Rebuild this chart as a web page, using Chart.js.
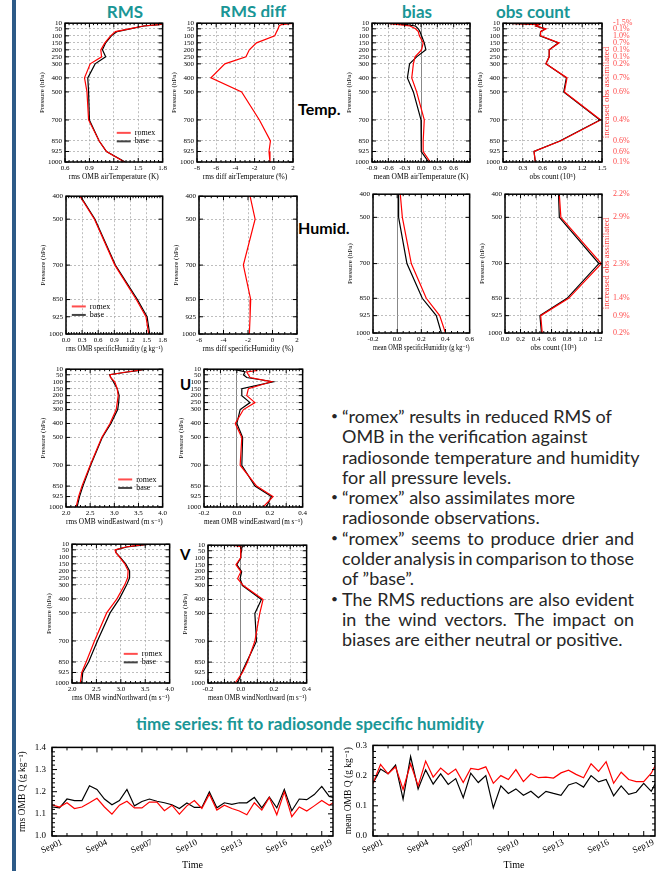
<!DOCTYPE html>
<html>
<head>
<meta charset="utf-8">
<script src="https://cdn.jsdelivr.net/npm/chart.js@4.4.1/dist/chart.umd.min.js"></script>
<style>
  html, body { margin: 0; padding: 0; background: #fff; }
  #page { position: relative; width: 656px; height: 871px; overflow: hidden; background: #fff; }
  #bar { position: absolute; left: 12px; top: 0; width: 4px; height: 871px; background: #2d5a87; }
  canvas { position: absolute; }
  .hd { position: absolute; transform: translateX(-50%); font-family: Lato, sans-serif; font-weight: bold;
        color: #1a9696; font-size: 17px; line-height: 1; white-space: nowrap; }
  .var { position: absolute; font-family: Lato, sans-serif; font-weight: bold; color: #000; font-size: 16px; line-height: 1; }
  #cover { position: absolute; left: 212px; top: 17px; width: 84px; height: 5px; background: #fff; }
  #notes { position: absolute; left: 342px; top: 406px; width: 292px; font-family: Lato, sans-serif;
           font-size: 18px; color: #262626; }
  #notes div { height: 20.3px; line-height: 20.3px; white-space: nowrap; position: relative; }
  #notes .b::before { content: '\2022'; position: absolute; left: -11px; font-size: 12px; }
</style>
</head>
<body>
<div id="page">
  <div id="bar"></div>
  <div class="hd" style="left:125px;top:3px">RMS</div>
  <div class="hd" style="left:253px;top:3px">RMS diff</div>
  <div id="cover"></div>
  <div class="hd" style="left:417px;top:3px">bias</div>
  <div class="hd" style="left:533px;top:3px">obs count</div>
  <div class="var" style="left:298px;top:101px">Temp.</div>
  <div class="var" style="left:298px;top:220px">Humid.</div>
  <div class="var" style="left:180px;top:377px;font-size:15px">U</div>
  <div class="var" style="left:180px;top:547px;font-size:15px">V</div>
  <div class="hd" style="left:310px;top:715px;font-size:17px">time series: fit to radiosonde specific humidity</div>

  <canvas id="t1"></canvas><canvas id="t2"></canvas><canvas id="t3"></canvas><canvas id="t4"></canvas>
  <canvas id="h1"></canvas><canvas id="h2"></canvas><canvas id="h3"></canvas><canvas id="h4"></canvas>
  <canvas id="u1"></canvas><canvas id="u2"></canvas>
  <canvas id="v1"></canvas><canvas id="v2"></canvas>
  <canvas id="s1"></canvas><canvas id="s2"></canvas>

  <div id="notes">
    <div class="b"><span>“romex” results in reduced RMS of</span></div>
    <div><span>OMB in the verification against</span></div>
    <div><span>radiosonde temperature and humidity</span></div>
    <div><span>for all pressure levels.</span></div>
    <div class="b"><span>“romex” also assimilates more</span></div>
    <div><span>radiosonde observations.</span></div>
    <div class="b j"><span>“romex” seems to produce drier and</span></div>
    <div class="j"><span>colder analysis in comparison to those</span></div>
    <div><span>of ”base”.</span></div>
    <div class="b j"><span>The RMS reductions are also evident</span></div>
    <div class="j"><span>in the wind vectors. The impact on</span></div>
    <div><span>biases are either neutral or positive.</span></div>
  </div>
</div>

<script>
// pressure levels (hPa)
const levels = [10, 20, 30, 50, 70, 100, 150, 200, 250, 300, 400, 500, 700, 850, 925, 1000];
const levelTicks = [10, 50, 100, 150, 200, 250, 300, 400, 500, 700, 850, 925, 1000];
const humLevels = [400, 500, 700, 850, 925, 1000];

// temperature
const tRmsRomex = [1.84, 1.75, 1.56, 1.39, 1.22, 1.16, 1.09, 1.04, 1.05, 0.91, 0.84, 0.87, 0.89, 1.02, 1.11, 1.33];
const tRmsBase  = [1.85, 1.76, 1.57, 1.40, 1.24, 1.17, 1.10, 1.06, 1.10, 0.97, 0.88, 0.89, 0.90, 1.02, 1.11, 1.34];
const tRmsDiff  = [2.3, 0.8, 0.55, 0.45, 0.3, 0.1, -1.8, -2.55, -2.9, -5.1, -6.55, -3.35, -1.5, -0.35, -0.5, -0.4];
const tBiasRomex = [-0.66, -0.4, -0.2, -0.1, -0.05, -0.03, 0.04, 0.01, -0.11, -0.14, -0.17, -0.08, 0.06, 0.04, 0.04, 0.17];
const tBiasBase  = [-0.62, -0.28, -0.1, -0.05, -0.02, 0.01, 0.06, 0.09, -0.08, -0.21, -0.25, -0.14, 0.0, 0.0, 0.01, 0.14];
const tCountRomex = [0.03, 0.55, 0.5, 0.65, 0.57, 0.57, 0.85, 0.7, 0.7, 0.65, 0.97, 0.93, 1.48, 0.87, 0.47, 0.49];
const tCountBase  = [0.03, 0.54, 0.5, 0.64, 0.57, 0.56, 0.84, 0.7, 0.7, 0.65, 0.96, 0.92, 1.47, 0.86, 0.47, 0.49];
const tCountPct = ['-1.5%', '0.1%', '1.0%', '0.7%', '0.1%', '0.1%', '0.2%', '0.7%', '0.6%', '0.4%', '0.6%', '0.6%', '0.1%'];

// specific humidity
const hRmsRomex = [0.26, 0.53, 0.91, 1.31, 1.49, 1.54];
const hRmsBase  = [0.27, 0.54, 0.92, 1.33, 1.51, 1.56];
const hRmsDiff  = [-1.83, -1.42, -2.38, -1.78, -1.83, -1.89];
const hBiasRomex = [0.026, 0.043, 0.117, 0.241, 0.352, 0.40];
const hBiasBase  = [0.012, 0.012, 0.081, 0.208, 0.324, 0.366];
const hCountRomex = [0.70, 0.72, 1.24, 0.82, 0.46, 0.48];
const hCountBase  = [0.69, 0.70, 1.21, 0.80, 0.45, 0.47];
const hCountPct = ['2.2%', '2.9%', '2.3%', '1.4%', '0.9%', '0.2%'];

// wind
const uRmsRomex = [3.62, 3.45, 3.25, 2.91, 2.92, 3.01, 3.06, 3.08, 3.06, 3.04, 2.91, 2.74, 2.50, 2.33, 2.26, 2.21];
const uRmsBase  = [3.66, 3.48, 3.28, 2.90, 2.93, 2.98, 3.06, 3.10, 3.09, 3.07, 2.93, 2.75, 2.51, 2.35, 2.28, 2.23];
const uBiasRomex = [0.11, 0.12, 0.06, 0.07, 0.08, 0.21, 0.07, 0.06, 0.11, 0.04, -0.01, 0.03, 0.02, 0.12, 0.22, 0.16];
const uBiasBase  = [-0.04, 0.02, 0.05, 0.04, 0.06, 0.22, 0.03, 0.03, 0.08, 0.02, 0.0, 0.035, 0.03, 0.11, 0.21, 0.18];
const vRmsRomex = [3.55, 3.3, 3.1, 2.88, 2.9, 2.97, 3.08, 3.15, 3.14, 3.08, 2.92, 2.71, 2.46, 2.29, 2.2, 2.17];
const vRmsBase  = [3.6, 3.35, 3.12, 2.9, 2.9, 2.98, 3.1, 3.18, 3.18, 3.12, 2.97, 2.78, 2.52, 2.34, 2.22, 2.2];
const vBiasRomex = [-0.05, 0.0, 0.0, 0.0, 0.0, -0.005, -0.03, 0.0, -0.02, 0.015, 0.135, 0.115, 0.085, 0.04, 0.01, -0.035];
const vBiasBase  = [0.025, 0.01, 0.005, 0.005, 0.0, 0.0, -0.025, 0.005, -0.005, 0.01, 0.125, 0.085, 0.095, 0.035, 0.005, -0.02];

// time series (days since Sep01 00Z, 12-hourly)
const tsDays = [0, 0.5, 1, 1.5, 2, 2.5, 3, 3.5, 4, 4.5, 5, 5.5, 6, 6.5, 7, 7.5, 8, 8.5, 9, 9.5,
                10, 10.5, 11, 11.5, 12, 12.5, 13, 13.5, 14, 14.5, 15, 15.5, 16, 16.5, 17, 17.5, 18, 18.5, 19];
const tsLabelDays = [0, 3, 6, 9, 12, 15, 18];
const tsLabels = ['Sep01', 'Sep04', 'Sep07', 'Sep10', 'Sep13', 'Sep16', 'Sep19'];
const rmsQRomex = [1.141, 1.131, 1.15, 1.124, 1.131, 1.15, 1.17, 1.131, 1.099, 1.139, 1.157, 1.127, 1.127, 1.153, 1.153, 1.114, 1.139, 1.099, 1.136, 1.16,
                   1.124, 1.189, 1.117, 1.139, 1.124, 1.113, 1.096, 1.15, 1.117, 1.174, 1.096, 1.199, 1.087, 1.131, 1.113, 1.136, 1.16, 1.139, 1.16];
const rmsQBase  = [1.131, 1.127, 1.167, 1.16, 1.16, 1.227, 1.21, 1.167, 1.141, 1.16, 1.21, 1.136, 1.156, 1.167, 1.157, 1.15, 1.141, 1.124, 1.149, 1.129,
                   1.129, 1.199, 1.127, 1.15, 1.143, 1.15, 1.15, 1.174, 1.127, 1.176, 1.127, 1.21, 1.114, 1.167, 1.164, 1.187, 1.224, 1.179, 1.17];
const meanQRomex = [0.1745, 0.237, 0.206, 0.229, 0.154, 0.239, 0.166, 0.248, 0.195, 0.225, 0.204, 0.2215, 0.177, 0.224, 0.22, 0.229, 0.1745, 0.2, 0.187, 0.22,
                    0.18, 0.206, 0.193, 0.195, 0.192, 0.209, 0.218, 0.204, 0.193, 0.239, 0.214, 0.246, 0.1745, 0.211, 0.187, 0.18, 0.18, 0.208, 0.256];
const meanQBase  = [0.1745, 0.2215, 0.206, 0.235, 0.122, 0.263, 0.156, 0.219, 0.172, 0.206, 0.171, 0.19, 0.127, 0.208, 0.177, 0.2, 0.093, 0.166, 0.141, 0.156,
                    0.135, 0.148, 0.127, 0.148, 0.141, 0.135, 0.169, 0.177, 0.162, 0.2, 0.179, 0.187, 0.133, 0.166, 0.138, 0.145, 0.1745, 0.148, 0.195];

const serif = "'Liberation Serif', 'DejaVu Serif', serif";
Chart.defaults.font.family = serif;
Chart.defaults.color = '#000';
Chart.defaults.animation = false;
Chart.defaults.events = [];
Chart.defaults.plugins.legend.display = false;
Chart.defaults.plugins.tooltip.enabled = false;

const near = (a, b) => Math.abs(a - b) < 1e-6;

// frame box, inward tick marks, in-plot legend, percentage labels and side note
Chart.register({
  id: 'frame',
  afterDatasetsDraw(chart, args, o) {
    if (!o || !o.on) return;
    const { ctx, chartArea: a } = chart;
    const xs = chart.scales.x, ys = chart.scales.y;
    const marks = (s, step) => {
      const out = [];
      const n = Math.floor((s.max - s.min) / step + 1e-6);
      for (let i = 0; i <= n; i++) {
        const v = s.min + i * step;
        out.push([s.getPixelForValue(v), s.ticks.some(t => Math.abs(t.value - v) < step / 10)]);
      }
      return out;
    };
    ctx.save();
    ctx.strokeStyle = '#000';
    ctx.lineWidth = 1;
    ctx.beginPath();
    marks(xs, o.xMinor).forEach(([p, m]) => {
      const l = m ? o.major : o.minor;
      ctx.moveTo(p, a.bottom); ctx.lineTo(p, a.bottom - l);
      ctx.moveTo(p, a.top); ctx.lineTo(p, a.top + l);
    });
    const ym = o.yMinor ? marks(ys, o.yMinor) : ys.ticks.map(t => [ys.getPixelForValue(t.value), true]);
    ym.forEach(([p, m]) => {
      const l = m ? o.major : o.minor;
      ctx.moveTo(a.left, p); ctx.lineTo(a.left + l, p);
      ctx.moveTo(a.right, p); ctx.lineTo(a.right - l, p);
    });
    ctx.stroke();
    ctx.lineWidth = o.width;
    ctx.strokeRect(a.left, a.top, a.right - a.left, a.bottom - a.top);

    if (o.legend) {
      const lx = a.left + o.legend.x * (a.right - a.left);
      const ly = a.top + o.legend.y * (a.bottom - a.top);
      chart.data.datasets.forEach((d, i) => {
        const yy = ly + i * 8.5;
        ctx.strokeStyle = d.legendColor;
        ctx.lineWidth = 2;
        ctx.beginPath(); ctx.moveTo(lx, yy); ctx.lineTo(lx + 14, yy); ctx.stroke();
        ctx.fillStyle = '#000';
        ctx.font = '8px ' + serif;
        ctx.textBaseline = 'middle';
        ctx.fillText(d.label, lx + 18, yy);
      });
    }
    if (o.pct) {
      ctx.fillStyle = '#ff4a4a';
      ctx.font = '8px ' + serif;
      ctx.textAlign = 'left';
      ctx.textBaseline = 'middle';
      ys.ticks.forEach((t, i) => ctx.fillText(o.pct[i], a.right + 11, ys.getPixelForValue(t.value)));
      ctx.translate(a.right + 4.5, (a.top + a.bottom) / 2);
      ctx.rotate(-Math.PI / 2);
      ctx.fillStyle = '#ff3b3b';
      ctx.font = '9px ' + serif;
      ctx.textAlign = 'center';
      ctx.fillText('increased obs assimilated', 0, 0);
    }
    ctx.restore();
  }
});

function place(id, left, top, w, h) {
  const cv = document.getElementById(id);
  cv.width = w; cv.height = h;
  cv.style.left = left + 'px'; cv.style.top = top + 'px';
  return cv;
}

function profile(id, box, cfg) {
  const yW = 28, xH = 20, padT = 6;
  const padR = cfg.pct ? 32 : 6;
  const cv = place(id, box.l - yW, box.t - padT,
                   box.r - box.l + yW + padR, box.b - box.t + padT + xH);
  const f7 = { family: serif, size: 7 };
  const yLv = cfg.ymin === 400 ? humLevels : levelTicks;
  const isZero = c => cfg.zero && c.tick && near(c.tick.value, 0);
  const lv = cfg.ymin === 400 ? humLevels : levels;
  new Chart(cv, {
    type: 'line',
    data: {
      datasets: cfg.series.map(s => ({
        label: s.label,
        data: lv.map((p, i) => ({ x: s.data[i], y: p })),
        borderColor: s.color,
        legendColor: s.color === '#000000' ? '#444' : '#ff4d4d',
        borderWidth: 1.2,
        pointRadius: 0,
        tension: 0
      }))
    },
    options: {
      responsive: false,
      devicePixelRatio: 1,
      indexAxis: 'y',
      layout: { padding: { top: padT, right: padR, left: 0, bottom: 0 } },
      scales: {
        x: {
          type: 'linear', min: cfg.xMin, max: cfg.xMax,
          afterBuildTicks: s => { s.ticks = cfg.xGrid.map(v => ({ value: v })); },
          afterFit: s => { s.height = xH; },
          ticks: {
            font: f7, color: '#000', padding: 2, autoSkip: false, maxRotation: 0, minRotation: 0,
            callback: v => (cfg.xLabels || cfg.xGrid).some(l => near(l, v)) ? v.toFixed(cfg.fmt) : ''
          },
          grid: { drawTicks: false, lineWidth: 0.7, color: c => isZero(c) ? '#555' : '#a3a3a3' },
          border: { display: false, dash: c => isZero(c) ? [] : [2, 2] },
          title: { display: true, text: cfg.xTitle, font: { family: serif, size: 7.5 }, color: '#000', padding: 0 }
        },
        y: {
          type: 'linear', reverse: true, min: cfg.ymin, max: 1000,
          afterBuildTicks: s => { s.ticks = yLv.map(v => ({ value: v })); },
          afterFit: s => { s.width = yW; },
          ticks: { font: f7, color: '#000', padding: 3, autoSkip: false, callback: v => String(v) },
          grid: { drawTicks: false, lineWidth: 0.7, color: '#a3a3a3' },
          border: { display: false, dash: [2, 2] },
          title: { display: true, text: 'Pressure (hPa)', font: f7, color: '#000', padding: { top: 1, bottom: 0 } }
        }
      },
      plugins: {
        frame: { on: true, width: 1.5, major: 4, minor: 2, xMinor: cfg.minor, legend: cfg.legend, pct: cfg.pct }
      }
    }
  });
}

function series(id, box, cfg) {
  const yW = cfg.yW, xH = 35, padT = 6, padR = cfg.padR;
  const cv = place(id, box.l - yW, box.t - padT, box.r - box.l + yW + padR, box.b - box.t + padT + xH);
  new Chart(cv, {
    type: 'line',
    data: {
      datasets: [
        { label: 'romex', data: tsDays.map((d, i) => ({ x: d, y: cfg.romex[i] })), borderColor: '#ff0000', borderWidth: 1.2, pointRadius: 0 },
        { label: 'base', data: tsDays.map((d, i) => ({ x: d, y: cfg.base[i] })), borderColor: '#000000', borderWidth: 1.2, pointRadius: 0 }
      ]
    },
    options: {
      responsive: false,
      devicePixelRatio: 1,
      layout: { padding: { top: padT, right: padR, left: 0, bottom: 0 } },
      scales: {
        x: {
          type: 'linear', min: 0, max: 18.75,
          afterBuildTicks: s => { s.ticks = tsLabelDays.map(v => ({ value: v })); },
          afterFit: s => { s.height = xH; },
          ticks: {
            font: { family: serif, size: 9 }, color: '#000', padding: 1, autoSkip: false,
            minRotation: 24, maxRotation: 24, labelOffset: 10,
            callback: (v, i) => tsLabels[i]
          },
          grid: { display: false, drawTicks: false },
          border: { display: false },
          title: { display: true, text: 'Time', font: { family: serif, size: 10 }, color: '#000', padding: 0 }
        },
        y: {
          type: 'linear', min: cfg.yMin, max: cfg.yMax,
          afterBuildTicks: s => { s.ticks = cfg.yTicks.map(v => ({ value: v })); },
          afterFit: s => { s.width = yW; },
          ticks: { font: { family: serif, size: 9 }, color: '#000', padding: 6, autoSkip: false, callback: v => v.toFixed(1) },
          grid: { display: false, drawTicks: false },
          border: { display: false },
          title: { display: true, text: cfg.yTitle, font: { family: serif, size: 9.5 }, color: '#000', padding: { top: cfg.tPad, bottom: 0 } }
        }
      },
      plugins: { frame: { on: true, width: 1.5, major: 5, minor: 3, xMinor: 1, yMinor: 0.02 } }
    }
  });
}

const red = '#ff0000', black = '#000000';

profile('t1', { l: 65, t: 22, r: 163, b: 162 }, {
  ymin: 10, xMin: 0.6, xMax: 1.8, xGrid: [0.6, 0.9, 1.2, 1.5, 1.8], fmt: 1, minor: 0.05,
  xTitle: 'rms OMB airTemperature (K)', legend: { x: 0.53, y: 0.79 },
  series: [{ label: 'romex', data: tRmsRomex, color: red }, { label: 'base', data: tRmsBase, color: black }]
});
profile('t2', { l: 197, t: 22, r: 293, b: 162 }, {
  ymin: 10, xMin: -8, xMax: 2, xGrid: [-8, -6, -4, -2, 0, 2], fmt: 0, minor: 0.5,
  xTitle: 'rms diff airTemperature (%)',
  series: [{ label: 'diff', data: tRmsDiff, color: red }]
});
profile('t3', { l: 372, t: 22, r: 470, b: 162 }, {
  ymin: 10, xMin: -0.9, xMax: 0.9, xGrid: [-0.9, -0.6, -0.3, 0, 0.3, 0.6, 0.9], xLabels: [-0.9, -0.6, -0.3, 0, 0.3, 0.6],
  fmt: 1, minor: 0.05, zero: true, xTitle: 'mean OMB airTemperature (K)',
  series: [{ label: 'romex', data: tBiasRomex, color: red }, { label: 'base', data: tBiasBase, color: black }]
});
profile('t4', { l: 503, t: 22, r: 602, b: 162 }, {
  ymin: 10, xMin: 0, xMax: 1.5, xGrid: [0, 0.3, 0.6, 0.9, 1.2, 1.5], fmt: 1, minor: 0.05,
  xTitle: 'obs count (10⁵)', pct: tCountPct,
  series: [{ label: 'romex', data: tCountRomex, color: red }, { label: 'base', data: tCountBase, color: black }]
});

profile('h1', { l: 66, t: 195, r: 163, b: 334 }, {
  ymin: 400, xMin: 0, xMax: 1.8, xGrid: [0, 0.3, 0.6, 0.9, 1.2, 1.5, 1.8], fmt: 1, minor: 0.05,
  xTitle: 'rms OMB specificHumidity (g kg⁻¹)', legend: { x: 0.06, y: 0.8 },
  series: [{ label: 'romex', data: hRmsRomex, color: red }, { label: 'base', data: hRmsBase, color: black }]
});
profile('h2', { l: 199, t: 195, r: 297, b: 334 }, {
  ymin: 400, xMin: -6, xMax: 2, xGrid: [-6, -4, -2, 0, 2], fmt: 0, minor: 0.5,
  xTitle: 'rms diff specificHumidity (%)',
  series: [{ label: 'diff', data: hRmsDiff, color: red }]
});
profile('h3', { l: 373, t: 193, r: 470, b: 333 }, {
  ymin: 400, xMin: -0.2, xMax: 0.6, xGrid: [-0.2, 0, 0.2, 0.4, 0.6], fmt: 1, minor: 0.05, zero: true,
  xTitle: 'mean OMB specificHumidity (g kg⁻¹)',
  series: [{ label: 'romex', data: hBiasRomex, color: red }, { label: 'base', data: hBiasBase, color: black }]
});
profile('h4', { l: 505, t: 193, r: 602, b: 333 }, {
  ymin: 400, xMin: 0, xMax: 1.25, xGrid: [0, 0.2, 0.4, 0.6, 0.8, 1.0, 1.2], fmt: 1, minor: 0.05,
  xTitle: 'obs count (10⁵)', pct: hCountPct,
  series: [{ label: 'romex', data: hCountRomex, color: red }, { label: 'base', data: hCountBase, color: black }]
});

profile('u1', { l: 66, t: 368, r: 163, b: 507 }, {
  ymin: 10, xMin: 2, xMax: 4, xGrid: [2, 2.5, 3, 3.5, 4], fmt: 1, minor: 0.1,
  xTitle: 'rms OMB windEastward (m s⁻¹)', legend: { x: 0.54, y: 0.8 },
  series: [{ label: 'romex', data: uRmsRomex, color: red }, { label: 'base', data: uRmsBase, color: black }]
});
profile('u2', { l: 204, t: 368, r: 303, b: 507 }, {
  ymin: 10, xMin: -0.2, xMax: 0.4, xGrid: [-0.2, -0.1, 0, 0.1, 0.2, 0.3, 0.4], xLabels: [-0.2, 0, 0.2, 0.4],
  fmt: 1, minor: 0.02, zero: true, xTitle: 'mean OMB windEastward (m s⁻¹)',
  series: [{ label: 'romex', data: uBiasRomex, color: red }, { label: 'base', data: uBiasBase, color: black }]
});
profile('v1', { l: 72, t: 543, r: 170, b: 683 }, {
  ymin: 10, xMin: 2, xMax: 4, xGrid: [2, 2.5, 3, 3.5, 4], fmt: 1, minor: 0.1,
  xTitle: 'rms OMB windNorthward (m s⁻¹)', legend: { x: 0.53, y: 0.79 },
  series: [{ label: 'romex', data: vRmsRomex, color: red }, { label: 'base', data: vRmsBase, color: black }]
});
profile('v2', { l: 208, t: 544, r: 307, b: 683 }, {
  ymin: 10, xMin: -0.2, xMax: 0.4, xGrid: [-0.2, -0.1, 0, 0.1, 0.2, 0.3, 0.4], xLabels: [-0.2, 0, 0.2, 0.4],
  fmt: 1, minor: 0.02, zero: true, xTitle: 'mean OMB windNorthward (m s⁻¹)',
  series: [{ label: 'romex', data: vBiasRomex, color: red }, { label: 'base', data: vBiasBase, color: black }]
});

series('s1', { l: 52, t: 742, r: 333, b: 836 }, {
  yW: 36, padR: 6, tPad: 0.5, yMin: 1.0, yMax: 1.4, yTicks: [1.0, 1.1, 1.2, 1.3, 1.4],
  yTitle: 'rms OMB Q (g kg⁻¹)', romex: rmsQRomex, base: rmsQBase
});
series('s2', { l: 373, t: 740, r: 655, b: 836 }, {
  yW: 30, padR: 1, tPad: 0, yMin: 0.0, yMax: 0.3, yTicks: [0.0, 0.1, 0.2, 0.3],
  yTitle: 'mean OMB Q (g kg⁻¹)', romex: meanQRomex, base: meanQBase
});

// justify the lines that are spread to the full column width
document.querySelectorAll('#notes .j span').forEach(sp => {
  const w = sp.getBoundingClientRect().width;
  const gaps = (sp.textContent.match(/ /g) || []).length;
  if (gaps) sp.style.wordSpacing = ((292 - w) / gaps) + 'px';
});
</script>
</body>
</html>
